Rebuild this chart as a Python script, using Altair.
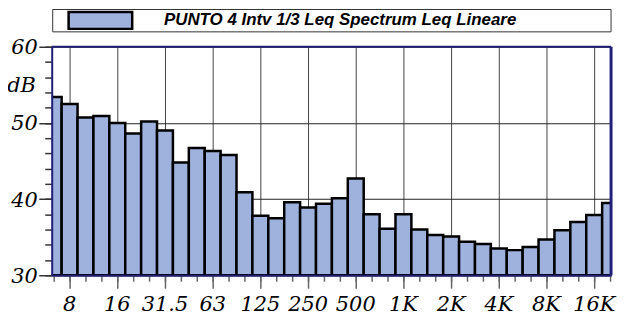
import altair as alt
import pandas as pd

bands = ["6.3", "8", "10", "12.5", "16", "20", "25", "31.5", "40", "50", "63", "80",
         "100", "125", "160", "200", "250", "315", "400", "500", "630", "800",
         "1K", "1.25K", "1.6K", "2K", "2.5K", "3.15K", "4K", "5K", "6.3K", "8K",
         "10K", "12.5K", "16K", "20K"]
levels = [53.4, 52.5, 50.7, 50.9, 50.0, 48.6, 50.2, 49.0, 44.8, 46.7, 46.3, 45.8,
          40.9, 37.8, 37.5, 39.6, 38.9, 39.4, 40.1, 42.7, 38.0, 36.1,
          38.0, 36.0, 35.3, 35.1, 34.4, 34.1, 33.5, 33.3, 33.7, 34.7,
          35.9, 37.0, 37.9, 39.5]
tick_labels = ["8", "16", "31.5", "63", "125", "250", "500", "1K", "2K", "4K", "8K", "16K"]
y_labels = [30, 40, 50, 60]
y_unit = "dB"
series_name = "PUNTO 4 Intv 1/3 Leq Spectrum Leq Lineare"

df = pd.DataFrame({"band": bands, "level": levels, "i": list(range(len(bands)))})
df["lo"] = df["i"] - 0.5
df["hi"] = df["i"] + 0.5

major = [bands.index(t) for t in tick_labels]
xlab_df = pd.DataFrame({"i": major, "label": tick_labels})
ylab_df = pd.DataFrame({"v": y_labels, "label": [str(v) for v in y_labels]})

W, H = 563, 230
NAVY = "#20207a"
FILL = "#9fb2dd"
SERIF = "DejaVu Serif"
FS = 21

xscale = alt.Scale(domain=[-0.125, 35.06], nice=False, zero=False)
yscale = alt.Scale(domain=[30, 60], nice=False, zero=False)

bars = alt.Chart(df).mark_bar(clip=True, fill=FILL, stroke="black", strokeWidth=2.5).encode(
    x=alt.X("lo:Q", scale=xscale, axis=alt.Axis(
        orient="bottom", values=major, tickSize=13, domain=False, labels=False,
        grid=True, gridColor="#444", gridWidth=1, tickColor="#666", tickWidth=1.5,
        title=None, zindex=0)),
    x2="hi:Q",
    y=alt.Y("level:Q", scale=yscale, axis=alt.Axis(
        orient="left", values=y_labels, tickSize=13, domain=False, labels=False,
        grid=True, gridColor="#222", gridWidth=1, tickColor="#333", tickWidth=1.5,
        title=None, zindex=0)),
    y2=alt.datum(30),
)

minor = alt.Chart(df).mark_point(opacity=0).encode(
    x=alt.X("i:Q", scale=xscale, axis=alt.Axis(
        orient="bottom", values=list(range(len(bands))), tickSize=6, labels=False,
        domain=True, domainColor=NAVY, domainWidth=2, tickColor="#666", tickWidth=1.5,
        grid=False, title=None, zindex=1)),
    y=alt.Y("level:Q", scale=yscale, axis=alt.Axis(
        orient="left", values=list(range(30, 61, 2)), tickSize=7, labels=False,
        domain=True, domainColor=NAVY, domainWidth=2, tickColor="#333", tickWidth=1.5,
        grid=False, title=None, zindex=1)),
)

xlabels = alt.Chart(xlab_df).mark_text(
    font=SERIF, fontStyle="italic", fontSize=FS, color="black",
    align="center", baseline="alphabetic").encode(
    x=alt.X("i:Q", scale=xscale, axis=None), y=alt.value(H + 36), text="label:N")

ylabels = alt.Chart(ylab_df).mark_text(
    font=SERIF, fontStyle="italic", fontSize=FS, color="black",
    align="right", baseline="middle", dy=1.5).encode(
    y=alt.Y("v:Q", scale=yscale, axis=None), x=alt.value(-14), text="label:N")

one = alt.Data(values=[{"name": series_name, "unit": y_unit}])

unit_text = alt.Chart(one).mark_text(
    font=SERIF, fontStyle="italic", fontSize=FS, color="black",
    align="right", baseline="middle").encode(
    x=alt.value(-16), y=alt.value(40), text="unit:N")

top_border = alt.Chart(one).mark_rule(color=NAVY, strokeWidth=2).encode(
    x=alt.value(0), x2=alt.value(W), y=alt.value(0))
right_border = alt.Chart(one).mark_rule(color=NAVY, strokeWidth=3).encode(
    x=alt.value(W), y=alt.value(0), y2=alt.value(H))

legend_box = alt.Chart(one).mark_rect(fill="white", stroke="#333", strokeWidth=1).encode(
    x=alt.value(1), x2=alt.value(W), y=alt.value(-37.5), y2=alt.value(-15))
legend_swatch = alt.Chart(one).mark_rect(fill=FILL, stroke="black", strokeWidth=2.5).encode(
    x=alt.value(17), x2=alt.value(81), y=alt.value(-35), y2=alt.value(-18))
legend_text = alt.Chart(one).mark_text(
    align="left", baseline="middle", font="Liberation Sans", fontStyle="italic",
    fontWeight="bold", fontSize=17, color="black").encode(
    x=alt.value(113), y=alt.value(-27), text="name:N")

chart = alt.layer(
    bars, minor, xlabels, ylabels, unit_text, top_border, right_border,
    legend_box, legend_swatch, legend_text
).resolve_axis(x="independent", y="independent").properties(
    width=W, height=H, autosize="none",
    padding={"left": 44, "top": 38, "right": 8, "bottom": 42},
).configure_view(stroke=None).configure(background="white")

chart.save("out.html", embed_options={"renderer": "svg", "actions": False})
